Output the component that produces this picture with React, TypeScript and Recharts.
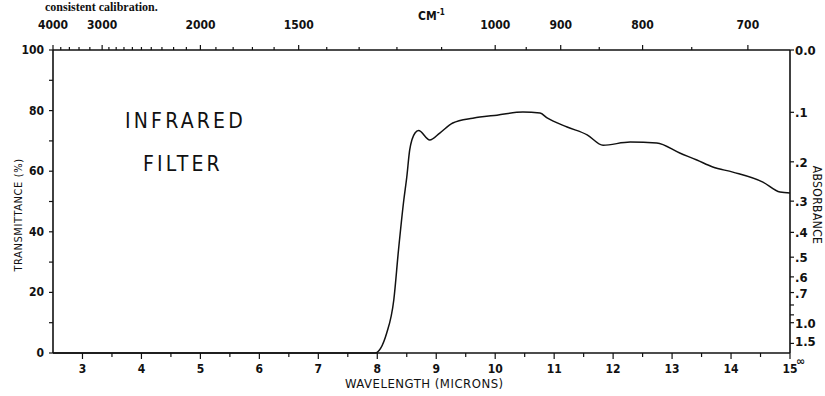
import React from "react";
import { LineChart, Line, XAxis, YAxis } from "recharts";

// wavelength in microns, transmittance in %
const wavelength = [
  2.5, 7.96, 8.16, 8.28, 8.36, 8.45, 8.5, 8.55, 8.64, 8.7, 8.89, 9.06, 9.28, 9.62, 9.74, 10.03,
  10.47, 10.76, 10.88, 11.22, 11.56, 11.83, 12.29, 12.74, 13.13, 13.42, 13.69, 14.03, 14.54,
  14.83, 15.0,
];
const transmittance = [
  0, 0, 6.6, 17.5, 34, 50.5, 58, 67, 72.6, 73.4, 70.3, 72.6, 75.9, 77.5, 77.9, 78.5, 79.5, 79.2,
  77.6, 74.6, 72, 68.6, 69.6, 69.3, 66, 63.7, 61.4, 59.7, 56.4, 53.1, 52.8,
];

const micronTicks = [
  3, 3.5, 4, 4.5, 5, 5.5, 6, 6.5, 7, 7.5, 8, 8.5, 9, 9.5, 10, 10.5, 11, 11.5, 12, 12.5, 13, 13.5,
  14, 14.5, 15,
];
const transTicks = [0, 10, 20, 30, 40, 50, 60, 70, 80, 90, 100];
const transLabels = [0, 20, 40, 60, 80, 100];

const wnMajor = [4000, 3000, 2000, 1500, 1000, 900, 800, 700];
const wnMinor = [
  3800, 3600, 3400, 3200, 2900, 2800, 2700, 2600, 2500, 2400, 2300, 2200, 2100, 1900, 1800, 1700,
  1600, 1400, 1300, 1200, 1100, 950, 850, 750,
];

const absMajor = [0, 0.1, 0.2, 0.3, 0.4, 0.5, 0.6, 0.7, 1.0, 1.5];
const absLabels = ["0.0", ".1", ".2", ".3", ".4", ".5", ".6", ".7", "1.0", "1.5"];
const absMinor = [0.8, 0.9];

const data = wavelength.map((w, i) => ({ w, t: transmittance[i] }));

const font = '"Liberation Sans Narrow", "DejaVu Sans Condensed", "Liberation Sans", sans-serif';
const ink = "#111";

const topTicks = [...wnMajor, ...wnMinor].map((wn) => 10000 / wn).sort((a, b) => a - b);
// transmittance positions of the absorbance ticks; 0 is the infinity mark
const absTicks = [...absMajor, ...absMinor].map((a) => 100 * Math.pow(10, -a)).concat([0]);

const BottomTick = (props: any) => {
  const { x, y, payload } = props;
  const major = Number.isInteger(payload.value);
  return (
    <g>
      <line x1={x} x2={x} y1={y} y2={y + (major ? 6 : 4)} stroke={ink} strokeWidth={1.2} />
      {major && (
        <text x={x} y={y + 20} textAnchor="middle" fontSize={12} fontWeight={700} fill={ink} fontFamily={font}>
          {payload.value}
        </text>
      )}
    </g>
  );
};

const TopTick = (props: any) => {
  const { x, y, payload } = props;
  const wn = Math.round(10000 / payload.value);
  const major = wnMajor.includes(wn);
  return (
    <g>
      <line x1={x} x2={x} y1={y} y2={y - (major ? 5 : 3)} stroke={ink} strokeWidth={1.2} />
      {major && (
        <text x={x} y={y - 21} textAnchor="middle" fontSize={12} fontWeight={700} fill={ink} fontFamily={font}>
          {wn}
        </text>
      )}
    </g>
  );
};

const LeftTick = (props: any) => {
  const { x, y, payload } = props;
  const major = transLabels.includes(payload.value);
  return (
    <g>
      <line x1={x} x2={x - 4} y1={y} y2={y} stroke={ink} strokeWidth={1.2} />
      {major && (
        <text x={x - 9} y={y + 4} textAnchor="end" fontSize={12} fontWeight={700} fill={ink} fontFamily={font}>
          {payload.value}
        </text>
      )}
    </g>
  );
};

const RightTick = (props: any) => {
  const { x, y, payload } = props;
  const v = payload.value;
  if (v < 0.01) {
    return (
      <text x={x + 6} y={y + 12} fontSize={11} fontWeight={700} fill={ink} fontFamily="DejaVu Sans, sans-serif">
        ∞
      </text>
    );
  }
  const a = Math.round(-Math.log10(v / 100) * 10) / 10;
  const idx = absMajor.findIndex((m) => Math.abs(m - a) < 0.01);
  return (
    <g>
      <line x1={x} x2={x + 4} y1={y} y2={y} stroke={ink} strokeWidth={1.2} />
      {idx >= 0 && (
        <text x={x + 5} y={y + (a === 1.5 ? 3 : 5)} fontSize={13} fontWeight={700} fill={ink} fontFamily={font}>
          {absLabels[idx]}
        </text>
      )}
    </g>
  );
};

const txt: React.CSSProperties = {
  position: "absolute",
  fontFamily: font,
  color: ink,
  whiteSpace: "nowrap",
  lineHeight: 1,
};

export default function App() {
  return (
    <div style={{ position: "absolute", left: 0, top: 0, width: 825, height: 396, background: "#fff", overflow: "hidden" }}>
      <LineChart
        width={825}
        height={396}
        data={data}
        margin={{ top: 20, right: 5, bottom: 13, left: 23 }}
      >
        <XAxis
          xAxisId="bottom"
          dataKey="w"
          type="number"
          domain={[2.5, 15]}
          ticks={micronTicks}
          interval={0}
          height={30}
          tickSize={0}
          tickMargin={0}
          tickLine={false}
          axisLine={{ stroke: ink, strokeWidth: 1.6 }}
          tick={<BottomTick />}
          allowDataOverflow
        />
        <XAxis
          xAxisId="top"
          orientation="top"
          dataKey="w"
          type="number"
          domain={[2.5, 15]}
          ticks={topTicks}
          interval={0}
          height={30}
          tickSize={0}
          tickMargin={0}
          tickLine={false}
          axisLine={{ stroke: ink, strokeWidth: 1.6 }}
          tick={<TopTick />}
          allowDataOverflow
        />
        <YAxis
          yAxisId="left"
          type="number"
          domain={[0, 100]}
          ticks={transTicks}
          interval={0}
          width={30}
          tickSize={0}
          tickMargin={0}
          tickLine={false}
          axisLine={{ stroke: ink, strokeWidth: 1.6 }}
          tick={<LeftTick />}
        />
        <YAxis
          yAxisId="right"
          orientation="right"
          type="number"
          domain={[0, 100]}
          ticks={absTicks}
          interval={0}
          width={30}
          tickSize={0}
          tickMargin={0}
          tickLine={false}
          axisLine={{ stroke: ink, strokeWidth: 1.6 }}
          tick={<RightTick />}
          allowDataOverflow
        />
        <Line
          xAxisId="bottom"
          yAxisId="left"
          dataKey="t"
          type="monotone"
          stroke={ink}
          strokeWidth={1.5}
          dot={false}
          isAnimationActive={false}
        />
        <Line
          xAxisId="top"
          yAxisId="right"
          dataKey="t"
          type="monotone"
          stroke="none"
          dot={false}
          activeDot={false}
          legendType="none"
          isAnimationActive={false}
        />
      </LineChart>

      <div style={{ ...txt, left: 45, top: 1, fontSize: 12, fontWeight: 700, fontFamily: "Liberation Serif, serif" }}>
        consistent calibration.
      </div>
      <div style={{ ...txt, left: 418, top: 9, fontSize: 12, fontWeight: 700 }}>
        CM<sup style={{ fontSize: 8 }}>-1</sup>
      </div>
      <div style={{ ...txt, left: 125, top: 111, fontSize: 21, letterSpacing: 3.2 }}>INFRARED</div>
      <div style={{ ...txt, left: 143, top: 154, fontSize: 21, letterSpacing: 3.2 }}>FILTER</div>
      <div style={{ ...txt, left: 345, top: 377, fontSize: 13, letterSpacing: 0.5 }}>WAVELENGTH (MICRONS)</div>
      <div
        style={{
          ...txt,
          left: 18,
          top: 215,
          fontSize: 11,
          letterSpacing: 0.6,
          transform: "translate(-50%, -50%) rotate(-90deg)",
        }}
      >
        TRANSMITTANCE (%)
      </div>
      <div
        style={{
          ...txt,
          left: 817,
          top: 205,
          fontSize: 12,
          letterSpacing: 0.4,
          transform: "translate(-50%, -50%) rotate(90deg)",
        }}
      >
        ABSORBANCE
      </div>
    </div>
  );
}
